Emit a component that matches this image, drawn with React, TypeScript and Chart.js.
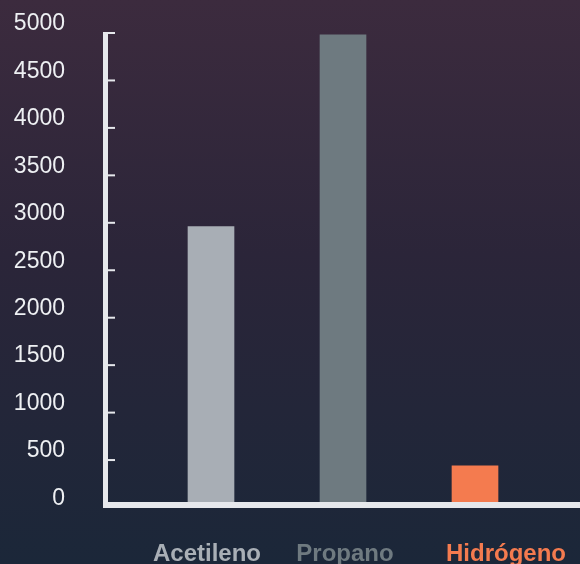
import React, { useEffect, useRef } from "react";
import { Chart, registerables } from "chart.js";

Chart.register(...registerables);

const categories = ["Acetileno", "Propano", "Hidrógeno"];
const values = [2960, 4980, 440];
const barColors = ["#a8aeb5", "#6e7a80", "#f47b4f"];
const labelColors = ["#a9afb6", "#6f7a80", "#f47b4f"];
const labelOffsets = [-4, 2, 31];
const yTickValues = [0, 500, 1000, 1500, 2000, 2500, 3000, 3500, 4000, 4500, 5000];
const yTickLabels = ["0", "500", "1000", "1500", "2000", "2500", "3000", "3500", "4000", "4500", "5000"];

const W = 580;
const H = 564;

const decoPlugin = {
  id: "deco",
  beforeDraw(chart: any) {
    const ctx = chart.ctx as CanvasRenderingContext2D;
    ctx.save();
    const g = ctx.createLinearGradient(0, 0, 0, H);
    g.addColorStop(0, "#3c2b3e");
    g.addColorStop(0.45, "#2b2539");
    g.addColorStop(1, "#1b2739");
    ctx.fillStyle = g;
    ctx.fillRect(0, 0, W, H);
    ctx.restore();
  },
  afterDraw(chart: any) {
    const ctx = chart.ctx as CanvasRenderingContext2D;
    const y = chart.scales.y;
    const x = chart.scales.x;
    ctx.save();
    ctx.fillStyle = "#e6e8ec";
    const axisX = 103;
    const topY = y.getPixelForValue(5000) - 1;
    const zeroY = y.getPixelForValue(0);
    ctx.fillRect(axisX, topY, 5, zeroY - topY);
    ctx.fillRect(axisX, zeroY - 5.5, W - axisX, 6);
    // ticks
    yTickValues.forEach((v) => {
      if (v === 0) return;
      const py = y.getPixelForValue(v);
      ctx.fillRect(axisX + 4, py - 1, 8, 2);
    });
    // y labels
    ctx.fillStyle = "#eef0f3";
    ctx.font = "23px 'Liberation Sans', Arial, sans-serif";
    ctx.textAlign = "right";
    ctx.textBaseline = "middle";
    yTickValues.forEach((v, i) => {
      const py = y.getPixelForValue(v);
      ctx.fillText(yTickLabels[i], 65, py - 9);
    });
    // category labels
    ctx.font = "bold 24px 'Liberation Sans', Arial, sans-serif";
    ctx.textAlign = "center";
    ctx.textBaseline = "alphabetic";
    categories.forEach((c, i) => {
      const px = x.getPixelForValue(i);
      ctx.fillStyle = labelColors[i];
      ctx.fillText(c, px + labelOffsets[i], 561);
    });
    ctx.restore();
  },
};

export default function App() {
  const ref = useRef<HTMLCanvasElement | null>(null);
  useEffect(() => {
    if (!ref.current) return;
    const chart = new Chart(ref.current, {
      type: "bar",
      data: {
        labels: categories,
        datasets: [
          {
            data: values,
            backgroundColor: barColors,
            borderWidth: 0,
            barThickness: 46,
          },
        ],
      },
      options: {
        animation: false,
        responsive: false,
        devicePixelRatio: 1,
        layout: { padding: { left: 145, right: 39, top: 33, bottom: 56.5 } },
        plugins: { legend: { display: false }, tooltip: { enabled: false } },
        scales: {
          x: { display: false, offset: true },
          y: { display: false, min: 0, max: 5000 },
        },
      },
      plugins: [decoPlugin],
    });
    return () => chart.destroy();
  }, []);
  return (
    <div style={{ position: "fixed", left: 0, top: 0, width: W, height: H }}>
      <canvas ref={ref} width={W} height={H} style={{ width: W, height: H, display: "block" }} />
    </div>
  );
}
